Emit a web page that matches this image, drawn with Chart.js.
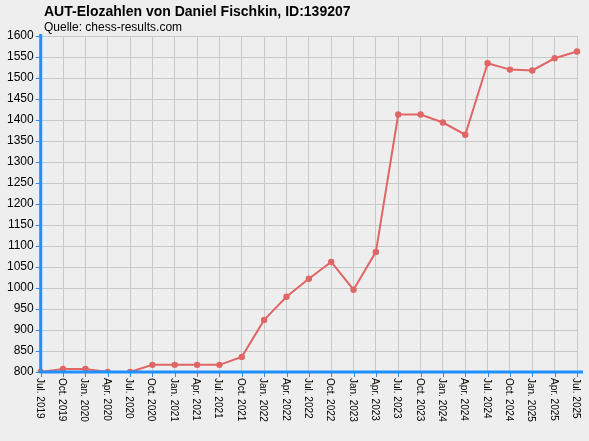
<!DOCTYPE html>
<html>
<head>
<meta charset="utf-8">
<script src="https://cdn.jsdelivr.net/npm/chart.js@4"></script>
<style>
  body { margin: 0; background: #eeeeee; }
  canvas { display: block; }
</style>
</head>
<body>
<canvas id="chart" width="589" height="441"></canvas>
<script>
const labels = ['Jul. 2019','Oct. 2019','Jan. 2020','Apr. 2020','Jul. 2020','Oct. 2020','Jan. 2021','Apr. 2021','Jul. 2021','Oct. 2021','Jan. 2022','Apr. 2022','Jul. 2022','Oct. 2022','Jan. 2023','Apr. 2023','Jul. 2023','Oct. 2023','Jan. 2024','Apr. 2024','Jul. 2024','Oct. 2024','Jan. 2025','Apr. 2025','Jul. 2025'];
const elo = [800,807,807,800,800,817,817,817,817,836,924,979,1022,1062,996,1086,1413,1413,1394,1365,1535,1520,1518,1547,1563];
const titleText = 'AUT-Elozahlen von Daniel Fischkin, ID:139207';
const subtitleText = 'Quelle: chess-results.com';

const blue = '#1e90ff';

// draws background, titles and the downward-reading x labels
const decor = {
  id: 'decor',
  beforeDraw(chart) {
    const c = chart.ctx;
    c.save();
    c.fillStyle = '#eeeeee';
    c.fillRect(0, 0, chart.width, chart.height);
    c.restore();
  },
  afterDraw(chart) {
    const c = chart.ctx;
    const x = chart.scales.x;
    const area = chart.chartArea;
    c.save();
    c.fillStyle = '#000';
    c.font = 'bold 14px "Liberation Sans", Arial, sans-serif';
    c.textBaseline = 'alphabetic';
    c.fillText(titleText, 44, 16);
    c.font = '12px "Liberation Sans", Arial, sans-serif';
    c.fillText(subtitleText, 44, 31);
    // blue axis lines and ticks
    c.strokeStyle = blue;
    c.lineWidth = 3;
    c.beginPath();
    c.moveTo(area.left, area.top - 2); c.lineTo(area.left, area.bottom);
    c.lineTo(area.right + 6, area.bottom);
    c.stroke();
    c.lineWidth = 1;
    c.beginPath();
    labels.forEach((l, i) => {
      const px = Math.round(x.getPixelForValue(i)) + 0.5;
      c.moveTo(px, area.bottom); c.lineTo(px, area.bottom + 5);
    });
    c.stroke();
    c.font = '10px "Liberation Sans", Arial, sans-serif';
    c.fillStyle = '#000';
    labels.forEach((l, i) => {
      const px = x.getPixelForValue(i);
      c.save();
      c.translate(px - 4, area.bottom + 6);
      c.rotate(Math.PI / 2);
      c.textBaseline = 'alphabetic';
      c.fillText(l, 0, 0);
      c.restore();
    });
    c.restore();
  }
};

new Chart(document.getElementById('chart'), {
  type: 'line',
  data: {
    labels: labels,
    datasets: [{
      data: elo,
      borderColor: '#e06666',
      backgroundColor: '#e06666',
      borderWidth: 2,
      pointRadius: 2.2,
      tension: 0
    }]
  },
  options: {
    responsive: false,
    animation: false,
    layout: { padding: { top: 36, left: 5, right: 12, bottom: 69 } },
    plugins: { legend: { display: false }, tooltip: { enabled: false } },
    scales: {
      x: {
        offset: false,
        ticks: { display: false },
        grid: { color: '#c8c8c8', drawTicks: false },
        border: { display: false }
      },
      y: {
        min: 800, max: 1600,
        ticks: { stepSize: 50, color: '#000', font: { size: 12, family: '"Liberation Sans", Arial' }, padding: 2,
                 callback: v => String(v) },
        grid: { color: '#c8c8c8', tickColor: blue, tickLength: 5 },
        border: { display: false }
      }
    }
  },
  plugins: [decor]
});
</script>
</body>
</html>
